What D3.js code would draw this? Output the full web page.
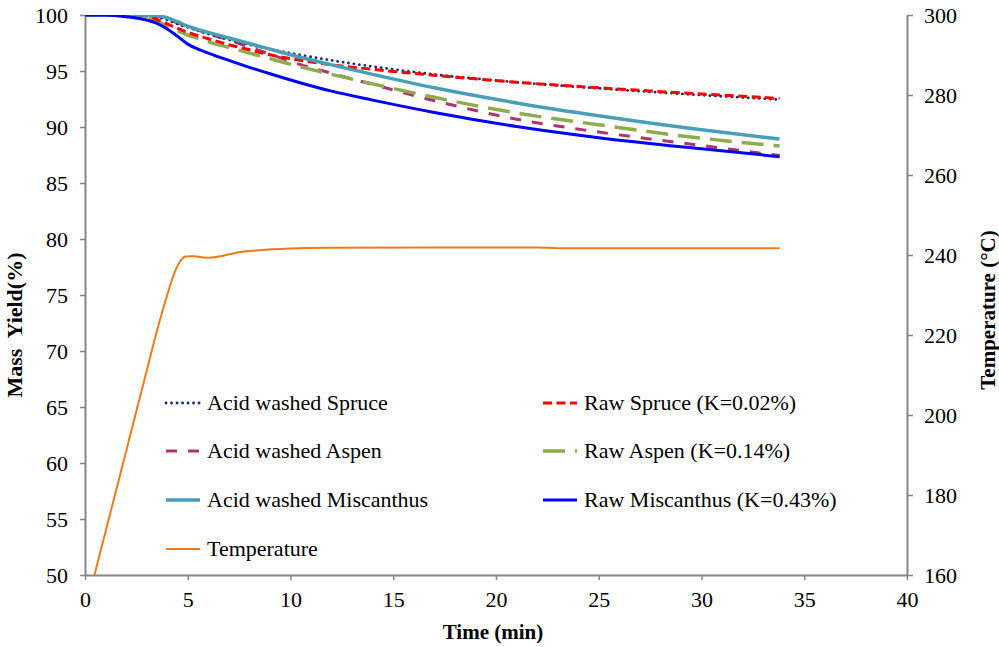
<!DOCTYPE html>
<meta charset="utf-8">
<style>
  body { margin: 0; background: #fff; }
  text { font-family: "Liberation Serif", "Times New Roman", serif; }
</style>
<body>
<script src="https://d3js.org/d3.v7.min.js"></script>
<div id="chart"></div>
<script>

// time points (min) shared by the mass yield curves
const times = [0, 1, 2, 3, 3.5, 4, 4.5, 5, 5.5, 6, 7, 8, 9, 10, 12, 14, 17, 21, 25, 30, 33.8];

// mass yield (%)
const acidSpruce     = [100, 100, 100, 100, 99.85, 99.55, 99.2, 98.9, 98.6, 98.3, 97.8, 97.35, 96.95, 96.6, 95.95, 95.4, 94.7, 94.0, 93.45, 92.85, 92.45];
const rawSpruce      = [100, 100, 100, 99.9, 99.6, 99.2, 98.8, 98.45, 98.15, 97.88, 97.35, 96.9, 96.45, 96.1, 95.55, 95.15, 94.62, 94.0, 93.5, 92.95, 92.55];
const acidAspen      = [100, 100, 100, 100, 99.9, 99.65, 99.3, 98.95, 98.65, 98.35, 97.75, 97.15, 96.5, 95.85, 94.8, 93.8, 92.35, 90.7, 89.55, 88.35, 87.45];
const rawAspen       = [100, 100, 100, 99.85, 99.45, 99.0, 98.6, 98.2, 97.9, 97.6, 97.1, 96.6, 96.1, 95.6, 94.7, 93.85, 92.65, 91.25, 90.2, 89.0, 88.3];
const acidMiscanthus = [100, 100, 100, 100, 99.95, 99.75, 99.4, 99.0, 98.7, 98.45, 97.95, 97.45, 96.95, 96.45, 95.55, 94.7, 93.5, 92.15, 91.0, 89.75, 88.93];
const rawMiscanthus  = [100, 100, 99.85, 99.55, 99.25, 98.75, 98.1, 97.4, 96.95, 96.6, 95.95, 95.33, 94.75, 94.2, 93.2, 92.4, 91.3, 90.05, 89.05, 88.05, 87.35];

// temperature curve (°C) on its own time points
const tempTimes  = [0.46, 1, 2, 3, 3.5, 4, 4.3, 4.6, 4.9, 5.3, 5.9, 6.5, 7.5, 8.5, 10, 12, 17, 22, 23, 33.8];
const tempValues = [160, 170.8, 190.9, 211, 221, 230, 234.8, 238.2, 239.6, 239.7, 239.3, 239.6, 240.7, 241.2, 241.6, 241.8, 241.9, 241.9, 241.7, 241.7];

const xTicks = [0, 5, 10, 15, 20, 25, 30, 35, 40];
const yTicks = [50, 55, 60, 65, 70, 75, 80, 85, 90, 95, 100];
const tTicks = [160, 180, 200, 220, 240, 260, 280, 300];

const series = [
  {name: "Acid washed Spruce", values: acidSpruce, color: "#14306b", width: 2.8, dash: "0.1,5.4", cap: "round"},
  {name: "Raw Spruce (K=0.02%)", values: rawSpruce, color: "#ff0000", width: 3, dash: "9,4.5", cap: "butt"},
  {name: "Acid washed Aspen", values: acidAspen, color: "#b0336f", width: 3, dash: "11,11", cap: "butt"},
  {name: "Raw Aspen (K=0.14%)", values: rawAspen, color: "#8eac4b", width: 3.5, dash: "22,10", cap: "butt"},
  {name: "Acid washed Miscanthus", values: acidMiscanthus, color: "#4a9fb8", width: 3.5, dash: null, cap: "butt"},
  {name: "Raw Miscanthus (K=0.43%)", values: rawMiscanthus, color: "#0000ff", width: 3, dash: null, cap: "butt"}
];

const W = 999, H = 647;
const margin = {top: 15, right: 92, bottom: 72, left: 85};
const width = W - margin.left - margin.right,
      height = H - margin.top - margin.bottom;

const svg = d3.select("#chart").append("svg")
  .attr("width", W).attr("height", H);
const g = svg.append("g").attr("transform", `translate(${margin.left},${margin.top})`);

const x = d3.scaleLinear().domain([0, 40]).range([0, width]);
const y = d3.scaleLinear().domain([50, 100]).range([height, 0]);
const yT = d3.scaleLinear().domain([160, 300]).range([height, 0]);

g.append("clipPath").attr("id", "clip")
  .append("rect").attr("width", width).attr("height", height + 1);

// axes
const axisColor = "#868686";
function styleAxis(sel) {
  sel.selectAll(".domain").attr("stroke", axisColor).attr("stroke-width", 2);
  sel.selectAll(".tick line").attr("stroke", axisColor).attr("stroke-width", 1.5);
  sel.selectAll(".tick text").attr("fill", "#000")
    .style("font-family", '"Liberation Serif", serif').style("font-size", "22px");
}

g.append("g").attr("transform", `translate(0,${height})`)
  .call(d3.axisBottom(x).tickValues(xTicks).tickSize(5).tickSizeOuter(0).tickPadding(11))
  .call(styleAxis);

g.append("g")
  .call(d3.axisLeft(y).tickValues(yTicks).tickSize(5).tickSizeOuter(0).tickPadding(12))
  .call(styleAxis);

g.append("g").attr("transform", `translate(${width},0)`)
  .call(d3.axisRight(yT).tickValues(tTicks).tickSize(6).tickSizeOuter(0).tickPadding(11))
  .call(styleAxis);

// axis titles
svg.append("text")
  .attr("x", 493).attr("y", 639)
  .attr("text-anchor", "middle")
  .style("font-size", "21px").style("font-weight", "bold")
  .text("Time (min)");

svg.append("text")
  .attr("transform", "translate(22,325) rotate(-90)")
  .attr("text-anchor", "middle")
  .style("font-size", "22px").style("font-weight", "bold")
  .style("white-space", "pre")
  .text("Mass  Yield(%)");

svg.append("text")
  .attr("transform", "translate(995,310) rotate(-90)")
  .attr("text-anchor", "middle")
  .style("font-size", "21px").style("font-weight", "bold")
  .text("Temperature (°C)");

// curves
const plot = g.append("g").attr("clip-path", "url(#clip)");

const line = d3.line()
  .x((d, i) => x(times[i]))
  .y(d => y(d))
  .curve(d3.curveMonotoneX);

const tempLine = d3.line()
  .x((d, i) => x(tempTimes[i]))
  .y(d => yT(d))
  .curve(d3.curveMonotoneX);

plot.append("path")
  .datum(tempValues)
  .attr("d", tempLine)
  .attr("fill", "none")
  .attr("stroke", "#ee7a1c")
  .attr("stroke-width", 2);

// draw order so that the lower solid lines sit on top like the reference
const drawOrder = [2, 3, 0, 1, 4, 5];
drawOrder.forEach(k => {
  const s = series[k];
  plot.append("path")
    .datum(s.values)
    .attr("d", line)
    .attr("fill", "none")
    .attr("stroke", s.color)
    .attr("stroke-width", s.width)
    .attr("stroke-linecap", s.cap)
    .attr("stroke-dasharray", s.dash);
});

// legend
const legendItems = series.map(s => s).concat([
  {name: "Temperature", color: "#ee7a1c", width: 2, dash: null, cap: "butt"}
]);
const legCols = [166, 543];
const legRows = [403, 451, 500, 549];

legendItems.forEach((s, i) => {
  const col = i === 6 ? 0 : i % 2;
  const row = i === 6 ? 3 : Math.floor(i / 2);
  const lx = legCols[col], ly = legRows[row];
  svg.append("line")
    .attr("x1", lx).attr("x2", lx + 34)
    .attr("y1", ly).attr("y2", ly)
    .attr("stroke", s.color)
    .attr("stroke-width", s.width)
    .attr("stroke-linecap", s.cap)
    .attr("stroke-dasharray", s.dash);
  svg.append("text")
    .attr("x", lx + 41).attr("y", ly + 7)
    .style("font-size", "22px")
    .text(s.name);
});

</script>
</body>
